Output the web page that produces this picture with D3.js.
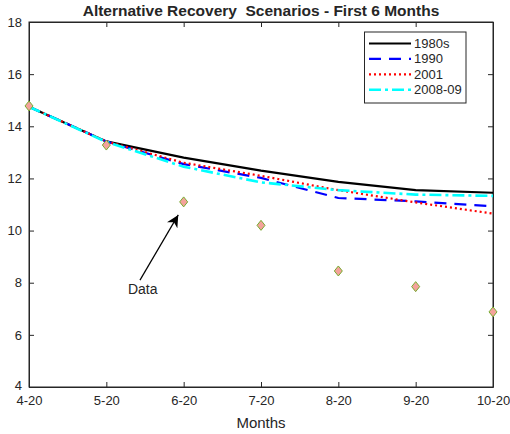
<!DOCTYPE html>
<html><head><meta charset="utf-8">
<script src="https://cdn.jsdelivr.net/npm/d3@7/dist/d3.min.js"></script>
<style>body{margin:0;background:#fff;} text{font-family:"Liberation Sans",Arial,sans-serif;fill:#262626;}</style>
</head><body>
<svg id="c" width="510" height="434"></svg>
<script>
const months = ["4-20","5-20","6-20","7-20","8-20","9-20","10-20"];
const yTicks = [4,6,8,10,12,14,16,18];
const s1980s = [14.75, 13.42, 12.8, 12.3, 11.87, 11.55, 11.45];
const s1990  = [14.75, 13.42, 12.55, 12.02, 11.25, 11.12, 10.93];
const s2001  = [14.75, 13.42, 12.6, 12.1, 11.55, 11.08, 10.65];
const s2008  = [14.75, 13.4, 12.45, 11.85, 11.55, 11.38, 11.33];
const dataPts = [14.78, 13.28, 11.1, 10.2, 8.45, 7.85, 6.88];
const seriesNames = ["1980s","1990","2001","2008-09"];

const svg = d3.select("#c");
const L=29, R=493, T=22, B=387;
const x = d3.scaleLinear().domain([0,6]).range([L,R]);
const y = d3.scaleLinear().domain([4,18]).range([B,T]);

const axisCol="#262626";
svg.append("rect").attr("x",L).attr("y",T).attr("width",R-L).attr("height",B-T)
  .attr("fill","none").attr("stroke",axisCol).attr("stroke-width",1);

const gx = svg.append("g").attr("transform",`translate(0,${B})`)
  .call(d3.axisBottom(x).tickValues(d3.range(7)).tickFormat(i=>months[i]).tickSizeInner(-5).tickSizeOuter(0).tickPadding(9));
const gxt = svg.append("g").attr("transform",`translate(0,${T})`)
  .call(d3.axisTop(x).tickValues(d3.range(7)).tickFormat("").tickSizeInner(-5).tickSizeOuter(0));
const gy = svg.append("g").attr("transform",`translate(${L},0)`)
  .call(d3.axisLeft(y).tickValues(yTicks).tickSizeInner(-5).tickSizeOuter(0).tickPadding(7));
const gyr = svg.append("g").attr("transform",`translate(${R},0)`)
  .call(d3.axisRight(y).tickValues(yTicks).tickFormat("").tickSizeInner(-5).tickSizeOuter(0));
[gx,gxt,gy,gyr].forEach(g=>{
  g.select(".domain").attr("stroke",axisCol);
  g.selectAll(".tick line").attr("stroke",axisCol);
  g.selectAll("text").attr("font-size",13).attr("fill",axisCol).style("font-family","Liberation Sans, Arial, sans-serif");
});
gy.selectAll(".tick").filter(d=>d===4).select("text").attr("dy","0.2em");

const line = d3.line().x((d,i)=>x(i)).y(d=>y(d));
const styles = [
  {data:s1980s, color:"#000000", dash:null, w:2.2},
  {data:s1990, color:"#0000ff", dash:"12,8", w:2.2},
  {data:s2001, color:"#ff0000", dash:"2,3", w:2.2},
  {data:s2008, color:"#00ffff", dash:"12,4,3,4", w:2.6}
];
styles.forEach(s=>{
  svg.append("path").datum(s.data).attr("d",line).attr("fill","none")
    .attr("stroke",s.color).attr("stroke-width",s.w).attr("stroke-dasharray",s.dash);
});

svg.selectAll(".dm").data(dataPts).enter().append("path")
  .attr("d","M0,-5L4,0L0,5L-4,0Z")
  .attr("transform",(d,i)=>`translate(${x(i)},${y(d)})`)
  .attr("fill","#f4a29b").attr("stroke","#77ac30").attr("stroke-width",1);

const defs = svg.append("defs");
defs.append("marker").attr("id","ah").attr("viewBox","0 0 10 10").attr("refX",10).attr("refY",5)
  .attr("markerWidth",12).attr("markerHeight",12).attr("markerUnits","userSpaceOnUse").attr("orient","auto")
  .append("path").attr("d","M0,0L10,5L0,10L3,5Z").attr("fill","#000");
svg.append("line").attr("x1",x(1.435)).attr("y1",y(8.1)).attr("x2",x(1.93)).attr("y2",y(10.6))
  .attr("stroke","#000").attr("stroke-width",1.2).attr("marker-end","url(#ah)");
svg.append("text").attr("x",x(1.47)).attr("y",y(7.55)).attr("text-anchor","middle").attr("font-size",14).text("Data");

svg.append("text").attr("x",(L+R)/2).attr("y",16).attr("text-anchor","middle").style("white-space","pre")
  .attr("font-size",15.5).attr("font-weight","bold").attr("fill","#000").text("Alternative Recovery  Scenarios - First 6 Months");
svg.append("text").attr("x",(L+R)/2).attr("y",428).attr("text-anchor","middle")
  .attr("font-size",15).text("Months");

const lg = svg.append("g");
lg.append("rect").attr("x",364.5).attr("y",32).attr("width",101.5).attr("height",71)
  .attr("fill","#fff").attr("stroke",axisCol).attr("stroke-width",1);
styles.forEach((s,i)=>{
  const yy = 43.5 + i*15.4;
  lg.append("line").attr("x1",369).attr("x2",411).attr("y1",yy).attr("y2",yy)
    .attr("stroke",s.color).attr("stroke-width",s.w).attr("stroke-dasharray",s.dash);
  lg.append("text").attr("x",414).attr("y",yy+4.5).attr("font-size",13).text(seriesNames[i]);
});
</script>
</body></html>
